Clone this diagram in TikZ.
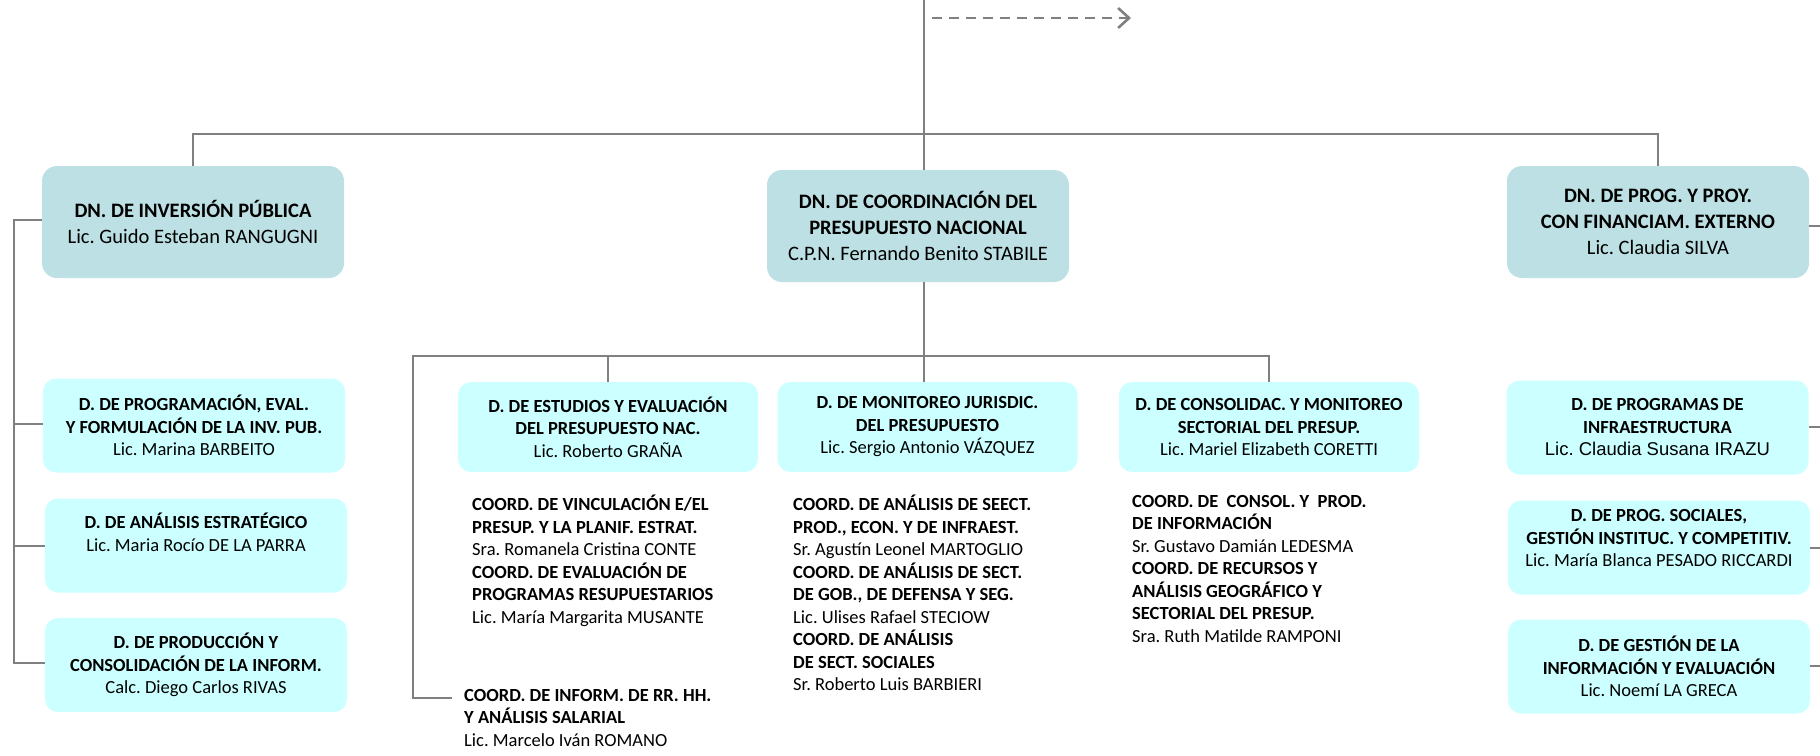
\documentclass[tikz,border=0pt]{standalone}
\usepackage{fontspec}
\setmainfont{Carlito}
\newfontfamily\arialf{Liberation Sans}
\usetikzlibrary{arrows.meta}
\definecolor{dnfill}{HTML}{BCE0E3}
\definecolor{subfill}{HTML}{CCFFFF}
\definecolor{linegray}{HTML}{808080}
\tikzset{
  dnbox/.style={fill=dnfill, draw=none, rounded corners=15pt, minimum width=302pt, minimum height=112pt,
    align=center, inner sep=0pt, font=\frenchspacing\fontsize{20.5}{26}\selectfont},
  subbox/.style={fill=subfill, draw=none, rounded corners=13pt, minimum width=302pt, minimum height=94pt,
    align=center, inner sep=0pt, font=\frenchspacing\fontsize{18.5}{22.5}\selectfont},
  txtblock/.style={anchor=north west, align=left, inner sep=0pt, font=\frenchspacing\fontsize{18.5}{22.5}\selectfont},
  conn/.style={draw=linegray, line width=1.9pt},
}
\begin{document}
\begin{tikzpicture}[x=1pt, y=-1pt]
\useasboundingbox (0,0) rectangle (1820,755);

% free-end coordinates
\coordinate (top) at (924,0);
\coordinate (dashS) at (932,18);
\coordinate (dashE) at (1131,18);
\coordinate (hL) at (193,134);
\coordinate (hR) at (1658,134);
\coordinate (lt0) at (14,220);
\coordinate (lt1) at (14,424);
\coordinate (lt2) at (14,546);
\coordinate (lt3) at (14,663);
\coordinate (mh0) at (413,356);
\coordinate (mh1) at (608,356);
\coordinate (mh2) at (924,356);
\coordinate (mh3) at (1269,356);
\coordinate (mb) at (413,698);
\coordinate (mbE) at (452,698);
\coordinate (r0) at (1820,226);
\coordinate (r1) at (1820,427);
\coordinate (r2) at (1820,548);
\coordinate (r3) at (1820,666);

% level 2
\node[dnbox] (dninv) at (193,222) {\textbf{DN. DE INVERSIÓN PÚBLICA}\\Lic. Guido Esteban RANGUGNI};
\node[dnbox] (dncoord) at (918,226) {\textbf{DN. DE COORDINACIÓN DEL}\\\textbf{PRESUPUESTO NACIONAL}\\C.P.N. Fernando Benito STABILE};
\node[dnbox] (dnprog) at (1658,222) {\textbf{DN. DE PROG. Y PROY.}\\\textbf{CON FINANCIAM. EXTERNO}\\Lic. Claudia SILVA};

% left column
\node[subbox] (dprog) at (194,425.5) {\textbf{D. DE PROGRAMACIÓN, EVAL.}\\\textbf{Y FORMULACIÓN DE LA INV. PUB.}\\Lic. Marina BARBEITO};
\node[subbox] (danal) at (196,545.5) {\textbf{D. DE ANÁLISIS ESTRATÉGICO}\\Lic. Maria Rocío DE LA PARRA\\[4pt]~};
\node[subbox] (dprod) at (196,665) {\textbf{D. DE PRODUCCIÓN Y}\\\textbf{CONSOLIDACIÓN DE LA INFORM.}\\Calc. Diego Carlos RIVAS};

% middle level 4
\node[subbox, minimum width=300pt, minimum height=90pt] (dest) at (608,427) {\textbf{D. DE ESTUDIOS Y EVALUACIÓN}\\\textbf{DEL PRESUPUESTO NAC.}\\Lic. Roberto GRAÑA};
\node[subbox, minimum width=300pt, minimum height=90pt] (dmon) at (927.5,427) {\textbf{D. DE MONITOREO JURISDIC.}\\\textbf{DEL PRESUPUESTO}\\Lic. Sergio Antonio VÁZQUEZ};
\node[subbox, minimum width=300pt, minimum height=90pt] (dcons) at (1269,427) {\textbf{D. DE CONSOLIDAC. Y MONITOREO}\\\textbf{SECTORIAL DEL PRESUP.}\\Lic. Mariel Elizabeth CORETTI};

% text blocks
\node[txtblock] (test) at (472,495) {\textbf{COORD. DE VINCULACIÓN E/EL}\\\textbf{PRESUP. Y LA PLANIF. ESTRAT.}\\Sra. Romanela Cristina CONTE\\\textbf{COORD. DE EVALUACIÓN DE}\\\textbf{PROGRAMAS RESUPUESTARIOS}\\Lic. María Margarita MUSANTE};
\node[txtblock] (tmon) at (793,495) {\textbf{COORD. DE ANÁLISIS DE SEECT.}\\\textbf{PROD., ECON. Y DE INFRAEST.}\\Sr. Agustín Leonel MARTOGLIO\\\textbf{COORD. DE ANÁLISIS DE SECT.}\\\textbf{DE GOB., DE DEFENSA Y SEG.}\\Lic. Ulises Rafael STECIOW\\\textbf{COORD. DE ANÁLISIS}\\\textbf{DE SECT. SOCIALES}\\Sr. Roberto Luis BARBIERI};
\node[txtblock] (tcons) at (1132,495) {\textbf{COORD. DE \ CONSOL. Y \ PROD.}\\\textbf{DE INFORMACIÓN}\\Sr. Gustavo Damián LEDESMA\\\textbf{COORD. DE RECURSOS Y}\\\textbf{ANÁLISIS GEOGRÁFICO Y}\\\textbf{SECTORIAL DEL PRESUP.}\\Sra. Ruth Matilde RAMPONI};
\node[txtblock] (tinf) at (464,689) {\textbf{COORD. DE INFORM. DE RR. HH.}\\\textbf{Y ANÁLISIS SALARIAL}\\Lic. Marcelo Iván ROMANO};

% right column
\node[subbox] (dinfra) at (1657.5,427.5) {\textbf{D. DE PROGRAMAS DE}\\\textbf{INFRAESTRUCTURA}\\{\arialf Lic. Claudia Susana IRAZU}};
\node[subbox] (dsoc) at (1659,547.5) {\textbf{D. DE PROG. SOCIALES,}\\\textbf{GESTIÓN INSTITUC. Y COMPETITIV.}\\Lic. María Blanca PESADO RICCARDI\\[-4pt]~};
\node[subbox] (dgest) at (1659,666.5) {\textbf{D. DE GESTIÓN DE LA}\\\textbf{INFORMACIÓN Y EVALUACIÓN}\\Lic. Noemí LA GRECA};

% connectors
\draw[conn] (top) -- (top |- dncoord.north);
\draw[draw=linegray, line width=2.6pt, dash pattern=on 10pt off 7pt, -{Straight Barb[length=11pt, width=20pt, line width=2.6pt]}] (dashS) -- (dashE);
\draw[conn] (dninv.north) -- (hL) -- (hR) -- (dnprog.north);
\draw[conn] (dninv.west |- lt0) -- (lt0) -- (lt3) -- (dprod.west |- lt3);
\draw[conn] (lt1) -- (dprog.west |- lt1);
\draw[conn] (lt2) -- (danal.west |- lt2);
\draw[conn] (mh2 |- dncoord.south) -- (mh2) -- (mh2 |- dmon.north);
\draw[conn] (mbE) -- (mb) -- (mh0) -- (mh3) -- (dcons.north);
\draw[conn] (mh1) -- (dest.north);
\draw[conn] (dnprog.east |- r0) -- (r0);
\draw[conn] (dinfra.east |- r1) -- (r1);
\draw[conn] (dsoc.east |- r2) -- (r2);
\draw[conn] (dgest.east |- r3) -- (r3);
\end{tikzpicture}
\end{document}
